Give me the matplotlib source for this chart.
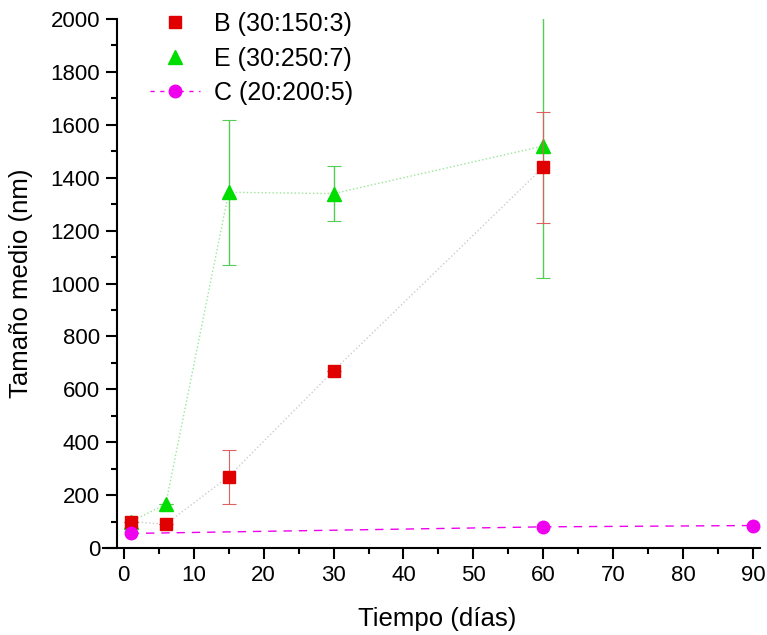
import matplotlib.pyplot as plt
from matplotlib.lines import Line2D
from matplotlib.ticker import MultipleLocator

plt.rcParams['font.family'] = ['Liberation Sans', 'DejaVu Sans']

# datos
dias_b = [1, 6, 15, 30, 60]
tam_b = [100, 90, 270, 670, 1440]
err_b = [0, 0, 102, 0, 210]

dias_e = [1, 6, 15, 30, 60]
tam_e = [100, 165, 1345, 1340, 1520]
err_e = [0, 0, 275, 105, 500]

dias_c = [1, 60, 90]
tam_c = [55, 80, 85]

etiquetas = ['B (30:150:3)', 'E (30:250:7)', 'C (20:200:5)']

fig = plt.figure(figsize=(7.67, 6.35), dpi=100)
ax = fig.add_axes([0.134, 0.137, 0.857, 0.833])

ax.errorbar(dias_b, tam_b, yerr=err_b, fmt='s', ms=8, color='#e00000', ecolor='#e06060',
            elinewidth=0.8, capsize=5, capthick=0.8, zorder=3)
ax.plot(dias_b, tam_b, ':', color='#cccccc', lw=1, zorder=1)

ax.errorbar(dias_e, tam_e, yerr=err_e, fmt='^', ms=10, color='#00dd00', ecolor='#55cc55',
            elinewidth=1, capsize=5, capthick=0.8, zorder=2)
ax.plot(dias_e, tam_e, ':', color='#99e699', lw=1, zorder=1)

ax.plot(dias_c, tam_c, '--', marker='o', ms=9, color='#ee00ee', lw=1,
        dashes=(6, 5), zorder=4)

ax.set_xlim(-3, 91)
ax.set_ylim(0, 2000)
ax.spines['top'].set_visible(False)
ax.spines['right'].set_visible(False)
ax.spines['left'].set_position(('data', -1))
ax.spines['left'].set_linewidth(1.5)
ax.spines['bottom'].set_linewidth(1.5)

ax.xaxis.set_major_locator(MultipleLocator(10))
ax.xaxis.set_minor_locator(MultipleLocator(5))
ax.yaxis.set_major_locator(MultipleLocator(200))
ax.yaxis.set_minor_locator(MultipleLocator(100))
ax.tick_params(which='major', direction='out', length=8, width=1.5, labelsize=16, pad=4)
ax.tick_params(which='minor', direction='out', length=4.5, width=1.5)

ax.set_xlabel('Tiempo (días)', fontsize=18.5)
ax.set_ylabel('Tamaño medio (nm)', fontsize=18.5)
ax.xaxis.set_label_coords(0.508, -0.112)
ax.yaxis.set_label_coords(-0.1065, 0.5)

# leyenda solo con marcadores, como en el original
manejadores = [
    Line2D([], [], ls='none', marker='s', ms=8, color='#e00000'),
    Line2D([], [], ls='none', marker='^', ms=10, color='#00dd00'),
    Line2D([], [], ls='--', dashes=(3, 4), marker='o', ms=9, color='#ee00ee', lw=1),
]
fig.legend(manejadores, etiquetas, loc='upper left', bbox_to_anchor=(150 / 767, 0.981),
           frameon=False, fontsize=18, handlelength=2, handletextpad=0.55,
           labelspacing=0.42, borderpad=0, borderaxespad=0)

fig.savefig('out.png', dpi=100)
